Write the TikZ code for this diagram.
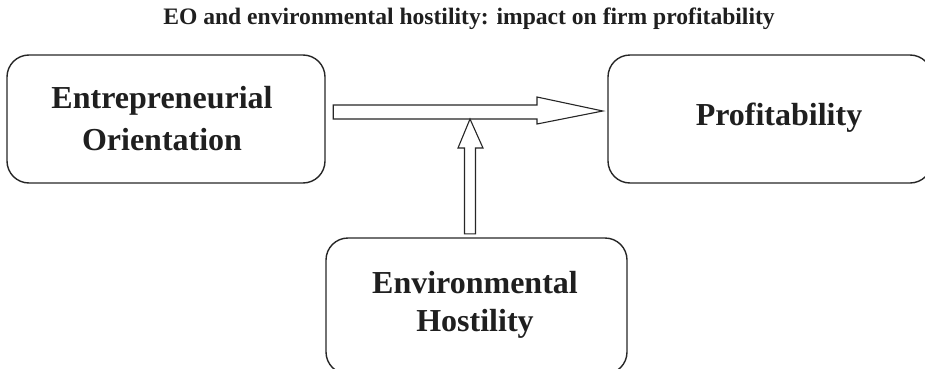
\documentclass[tikz,border=0pt]{standalone}
\usepackage{fontspec}
\setmainfont{Liberation Serif}
\usetikzlibrary{calc}
\begin{document}
\begin{tikzpicture}[x=1pt,y=1pt,
  box/.style={draw=black!85, line width=1.4pt, rounded corners=22pt, inner sep=0pt},
  lbl/.style={font=\fontsize{32}{42}\selectfont\bfseries, text=black!88, align=center},
  blockarrow/.style={draw=black!85, line width=1.1pt, fill=white, line join=miter}]
\useasboundingbox (0,0) rectangle (925,368);
\clip (0,0) rectangle (925,368);
\node[font=\fontsize{23.6}{28}\selectfont\bfseries, text=black!88] (title) at (469,349) {EO and environmental hostility: impact on firm profitability};
% boxes
\draw[box] (7,185) rectangle (325,313);
\node[draw=none, minimum width=318pt, minimum height=128pt] (eo) at (166,249) {};
\node[lbl] (eot) at (162,249) {Entrepreneurial\\Orientation};
\draw[box] (608,185) rectangle (932,313);
\node[draw=none, minimum width=324pt, minimum height=128pt] (pr) at (770,249) {};
\node[lbl] (prt) at (779,250) {Profitability};
\draw[box] (326,-6) rectangle (627,130);
\node[draw=none, minimum width=301pt, minimum height=136pt] (eh) at (476.5,62) {};
\node[lbl, font=\fontsize{32}{38}\selectfont\bfseries] (eht) at (475,63) {Environmental\\Hostility};
% horizontal block arrow from EO to Profitability
\coordinate (hs) at ($(eo.east)+(8,7)$);
\coordinate (ht) at ($(pr.west)+(-5,8)$);
\draw[blockarrow] ($(hs)+(0,7)$) -- (537,263) -- (537,271) -- (ht) -- (537,244) -- (537,249) -- ($(hs)+(0,-7)$) -- cycle;
% vertical block arrow from Hostility to the EO arrow
\coordinate (vs) at ($(eh.north)+(-6.5,4)$);
\coordinate (vt) at (470,249);
\draw[blockarrow] ($(vs)+(-5.5,0)$) -- (464.5,220) -- (458,220) -- (vt) -- (483,220) -- (475.5,220) -- ($(vs)+(5.5,0)$) -- cycle;
\end{tikzpicture}
\end{document}
